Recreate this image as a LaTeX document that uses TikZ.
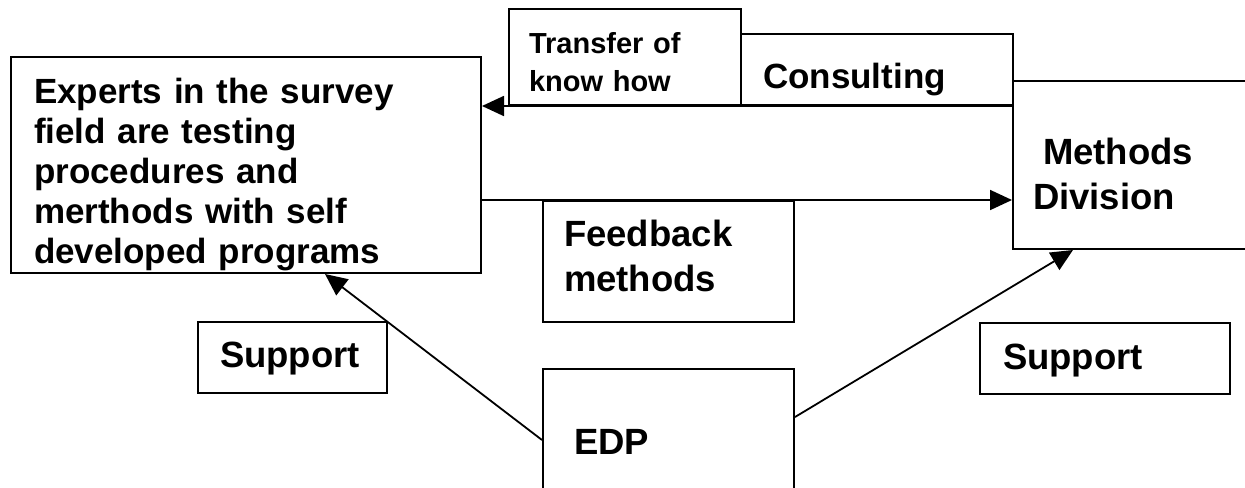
\documentclass[tikz,border=0pt]{standalone}
\usepackage{fontspec}
\setmainfont{Liberation Sans}
\usetikzlibrary{arrows.meta}
\usetikzlibrary{calc}
\tikzset{
	box/.style={draw=black,line width=1pt,anchor=north west,inner ysep=0pt,align=left,
		font=\bfseries\fontsize{18.25}{22.5}\selectfont},
	geom/.style n args={4}{text width=#1pt,inner xsep=#2pt,text height=#3pt,text depth=#4pt},
	small/.style={font=\bfseries\fontsize{14.5}{19}\selectfont},
	mid/.style={font=\bfseries\fontsize{17.5}{20}\selectfont},
	flow/.style={line width=0.9pt,-{Triangle[length=11pt,width=10pt]}},
	}

\begin{document}
\begin{tikzpicture}[x=0.5pt,y=-0.5pt]
 \useasboundingbox (0,0) rectangle (1245,487);
 \clip (0,0) rectangle (1245,487);

\node (xp) at (10,56) [box,mid,geom={212}{11.5}{23}{85}]
  {Experts in the survey\\field are testing\\procedures and\\merthods with self\\developed programs};
\node (tk) at (508,8) [box,small,geom={96}{10}{22}{26}] {Transfer of\\know how};
\node (cs) at (740,33) [box,mid,geom={114}{11}{27}{8.5}] {Consulting};
\node (md) at (1012,80) [box,geom={105}{10}{41.5}{42.5}] {\hspace*{5pt}Methods\\Division};
\node (fb) at (542,200) [box,geom={104.5}{10.5}{22.5}{38}] {Feedback\\methods};
\node (edp) at (542,368) [box,geom={94.5}{15.5}{42.5}{32.5}] {EDP};
\node (spl) at (197,321) [box,geom={72.5}{11}{22.5}{13}] {Support};
\node (spr) at (979,322) [box,geom={102}{11.5}{23}{12.5}] {Support};

 % exchange between the two divisions
 \draw[flow] (md.west |- tk.south) -- (xp.east |- tk.south);
 \draw[flow] (xp.east |- fb.north) -- (md.west |- fb.north);
 % support coming from EDP
 \draw[flow] ($(edp.north west)+(0,72)$) -- ($(xp.south west)+(315,0)$);
 \draw[flow] ($(edp.north east)+(0,49)$) -- ($(md.south west)+(61,0)$);
\end{tikzpicture}
\end{document}
